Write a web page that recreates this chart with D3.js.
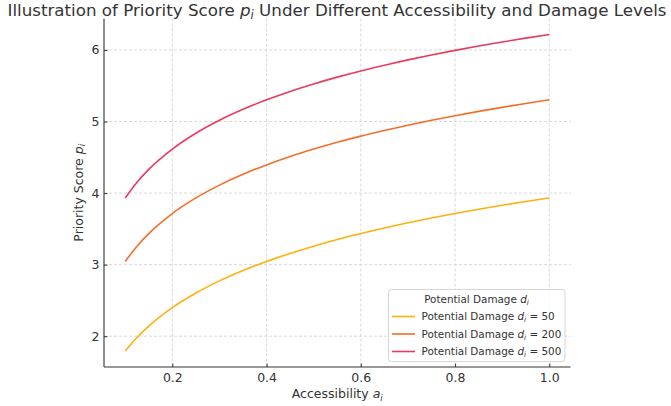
<!DOCTYPE html>
<html>
<head>
<meta charset="utf-8">
<script src="https://cdn.jsdelivr.net/npm/d3@7"></script>
<style>
  body { margin: 0; background: #fff; }
  text { font-family: "DejaVu Sans", sans-serif; fill: #333; }
</style>
</head>
<body>
<div id="chart"></div>
<script>
// Data
let access = [0.1, 0.125, 0.15, 0.2, 0.25, 0.3, 0.35, 0.4, 0.45, 0.5, 0.55, 0.6, 0.65, 0.7, 0.75, 0.8, 0.85, 0.9, 0.95, 1.0]
let damageLevels = [50, 200, 500]
let score50 = [1.792, 1.981, 2.140, 2.398, 2.603, 2.773, 2.918, 3.045, 3.157, 3.258, 3.350, 3.434, 3.512, 3.584, 3.651, 3.714, 3.773, 3.829, 3.882, 3.932]
let score200 = [3.045, 3.258, 3.434, 3.714, 3.932, 4.111, 4.263, 4.394, 4.511, 4.615, 4.710, 4.796, 4.875, 4.949, 5.017, 5.081, 5.142, 5.198, 5.252, 5.303]
let score500 = [3.932, 4.151, 4.331, 4.615, 4.836, 5.017, 5.170, 5.303, 5.421, 5.525, 5.620, 5.707, 5.787, 5.861, 5.930, 5.994, 6.054, 6.111, 6.165, 6.217]
let xTicks = [0.2, 0.4, 0.6, 0.8, 1.0]
let yTicks = [2, 3, 4, 5, 6]
let colors = ["#ffb00f", "#f46d2b", "#ec3a5c"]

let series = [score50, score200, score500].map((vals, i) => ({
  d: damageLevels[i],
  color: colors[i],
  points: vals.map((v, j) => ({a: access[j], p: v}))
}))

draw()

function draw() {
  var width = 671
  var height = 406
  var left = 104, right = 570.5, top = 18.5, bottom = 367

  // matplotlib-like 5% margins
  let xScale = d3.scaleLinear().domain([0.055, 1.045]).range([left, right])
  let yScale = d3.scaleLinear().domain([1.5695, 6.4395]).range([bottom, top])

  let svg = d3.select("#chart").append("svg")
    .attr("width", width)
    .attr("height", height)

  // grid
  svg.append("g")
    .selectAll("line").data(xTicks).enter().append("line")
    .attr("x1", d => xScale(d)).attr("x2", d => xScale(d))
    .attr("y1", top).attr("y2", bottom)
    .attr("stroke", "#cfcfcf").attr("stroke-width", 0.8)
    .attr("stroke-dasharray", "3,2")
  svg.append("g")
    .selectAll("line").data(yTicks).enter().append("line")
    .attr("x1", left).attr("x2", right)
    .attr("y1", d => yScale(d)).attr("y2", d => yScale(d))
    .attr("stroke", "#cfcfcf").attr("stroke-width", 0.8)
    .attr("stroke-dasharray", "3,2")

  // lines
  let line = d3.line()
    .x(d => xScale(d.a))
    .y(d => yScale(d.p))
    .curve(d3.curveMonotoneX)

  svg.append("g")
    .selectAll("path").data(series).enter().append("path")
    .attr("d", d => line(d.points))
    .attr("fill", "none")
    .attr("stroke", d => d.color)
    .attr("stroke-width", 1.6)

  // axes, ticks pointing inward
  let xAxis = d3.axisBottom(xScale).tickValues(xTicks).tickFormat(d3.format(".1f"))
    .tickSizeInner(-3.5).tickSizeOuter(0).tickPadding(6)
  let yAxis = d3.axisLeft(yScale).tickValues(yTicks).tickFormat(d3.format("d"))
    .tickSizeInner(-3.5).tickSizeOuter(0).tickPadding(4.5)

  let gx = svg.append("g")
    .attr("transform", "translate(0," + bottom + ")")
    .call(xAxis)
  gx.select(".domain").attr("d", "M" + left + ",0H" + right)
  let gy = svg.append("g")
    .attr("transform", "translate(" + left + ",0)")
    .call(yAxis)
  gy.select(".domain").attr("d", "M0," + top + "V" + bottom)

  svg.selectAll(".domain").attr("stroke", "#333").attr("stroke-width", 1.1)
  svg.selectAll(".tick line").attr("stroke", "#333")
  svg.selectAll(".tick text")
    .style("font-family", "DejaVu Sans")
    .style("font-size", "12.5px")
    .attr("fill", "#333")

  // helper: text with an italic subscripted symbol
  function mathText(sel, before, sym, after, size) {
    sel.append("tspan").text(before)
    sel.append("tspan").attr("font-style", "italic").text(sym)
    sel.append("tspan").attr("font-style", "italic")
      .attr("font-size", size * 0.7 + "px").attr("dy", size * 0.2).text("i")
    sel.append("tspan").attr("dy", -size * 0.2).text(after)
  }

  // title
  let title = svg.append("text")
    .attr("x", 337)
    .attr("y", 16)
    .attr("text-anchor", "middle")
    .style("font-size", "16.7px")
  mathText(title, "Illustration of Priority Score ", "p", " Under Different Accessibility and Damage Levels", 16.7)

  // axis labels
  let xl = svg.append("text")
    .attr("x", (left + right) / 2)
    .attr("y", 398)
    .attr("text-anchor", "middle")
    .style("font-size", "12.5px")
  mathText(xl, "Accessibility ", "a", "", 12.5)

  let yl = svg.append("text")
    .attr("transform", "translate(82.5," + (top + bottom) / 2 + ") rotate(-90)")
    .attr("text-anchor", "middle")
    .style("font-size", "12.5px")
  mathText(yl, "Priority Score ", "p", "", 12.5)

  // legend
  let lg = svg.append("g").attr("transform", "translate(388.5,289.5)")
  lg.append("rect")
    .attr("width", 176.5).attr("height", 72)
    .attr("rx", 3)
    .attr("fill", "white").attr("fill-opacity", 0.8)
    .attr("stroke", "#d6d6d6")
  let lt = lg.append("text")
    .attr("x", 88).attr("y", 13.8)
    .attr("text-anchor", "middle")
    .style("font-size", "10.4px")
  mathText(lt, "Potential Damage ", "d", "", 10.4)

  let items = lg.selectAll(".item").data(series).enter().append("g")
    .attr("class", "item")
    .attr("transform", (d, i) => "translate(0," + (27 + i * 17.5) + ")")
  items.append("line")
    .attr("x1", 3.5).attr("x2", 26.5)
    .attr("stroke", d => d.color).attr("stroke-width", 1.6)
  items.each(function (d) {
    let t = d3.select(this).append("text")
      .attr("x", 33).attr("y", 3.5)
      .style("font-size", "10.4px")
    mathText(t, "Potential Damage ", "d", " = " + d.d, 10.4)
  })
}
</script>
</body>
</html>
